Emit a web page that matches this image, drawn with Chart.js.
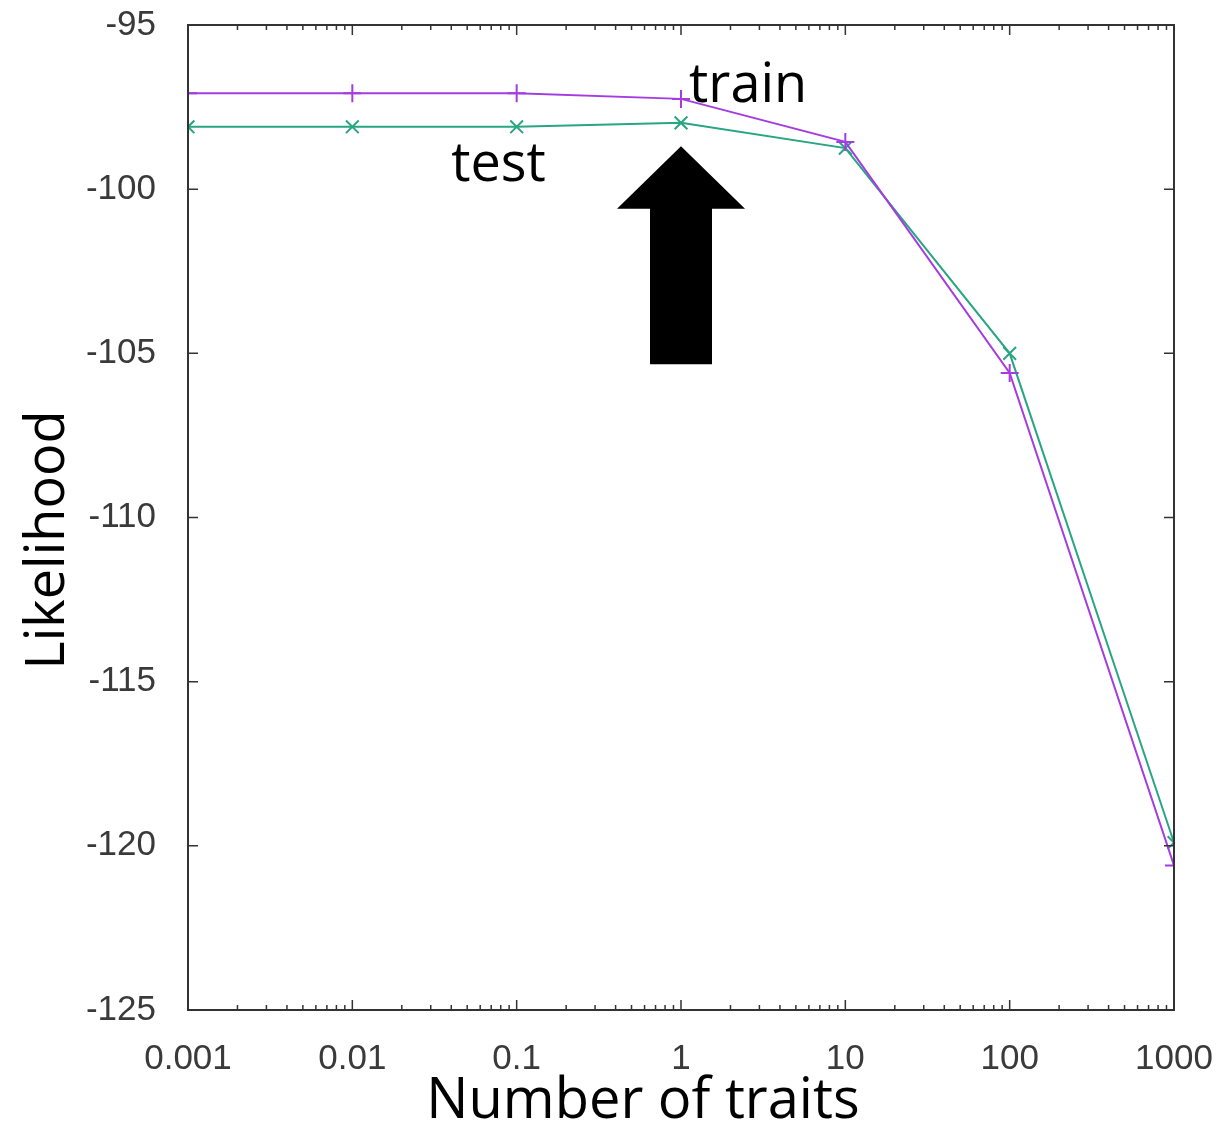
<!DOCTYPE html>
<html lang="en">
<head>
    <meta charset="UTF-8">
    <title>Likelihood vs number of traits</title>
    <style>
        html, body {
            margin: 0;
            padding: 0;
            background: #fff;
        }
        .wrap {
            width: 1217px;
            height: 1123px;
        }
    </style>
</head>
<body>
    <div class="wrap">
        <canvas id="chart" width="1217" height="1123"></canvas>
    </div>

    <script src="https://cdn.jsdelivr.net/npm/chart.js"></script>
    <script>
        // data
        const traits = [0.001, 0.01, 0.1, 1, 10, 100, 1000];
        const trainLik = [-97.08, -97.08, -97.08, -97.25, -98.56, -105.6, -120.6];
        const testLik = [-98.1, -98.1, -98.1, -97.98, -98.75, -105.0, -119.9];
        const xTicks = [0.001, 0.01, 0.1, 1, 10, 100, 1000];
        const yTicks = [-125, -120, -115, -110, -105, -100, -95];

        const tickFont = { family: '"Liberation Sans", Arial, sans-serif', size: 35 };
        const bigFont = '"Open Sans", "Noto Sans", sans-serif';

        // frame, inward ticks, arrow, in-plot labels and axis titles
        const decorations = {
            id: 'decorations',
            afterDatasetsDraw(chart) {
                const { ctx, chartArea: a, scales: { x, y } } = chart;
                ctx.save();
                ctx.strokeStyle = '#333';
                ctx.lineWidth = 2;
                ctx.strokeRect(a.left, a.top, a.right - a.left, a.bottom - a.top);

                ctx.lineWidth = 1.5;
                ctx.beginPath();
                for (let d = -3; d <= 2; d++) {
                    for (let m = 1; m <= 10; m++) {
                        const v = m * Math.pow(10, d);
                        const px = x.getPixelForValue(v);
                        const len = (m === 1 || m === 10) ? 10 : 5;
                        ctx.moveTo(px, a.bottom); ctx.lineTo(px, a.bottom - len);
                        ctx.moveTo(px, a.top); ctx.lineTo(px, a.top + len);
                    }
                }
                yTicks.forEach(v => {
                    const py = y.getPixelForValue(v);
                    ctx.moveTo(a.left, py); ctx.lineTo(a.left + 10, py);
                    ctx.moveTo(a.right, py); ctx.lineTo(a.right - 10, py);
                });
                ctx.stroke();

                // arrow pointing at the x = 1 point
                const ax = x.getPixelForValue(1);
                const tip = y.getPixelForValue(-98.69);
                const base = y.getPixelForValue(-100.6);
                const tail = y.getPixelForValue(-105.33);
                ctx.fillStyle = '#000';
                ctx.beginPath();
                ctx.moveTo(ax, tip);
                ctx.lineTo(ax + 64, base);
                ctx.lineTo(ax + 31, base);
                ctx.lineTo(ax + 31, tail);
                ctx.lineTo(ax - 31, tail);
                ctx.lineTo(ax - 31, base);
                ctx.lineTo(ax - 64, base);
                ctx.closePath();
                ctx.fill();

                ctx.font = '54px ' + bigFont;
                ctx.textBaseline = 'alphabetic';
                ctx.textAlign = 'left';
                ctx.fillText('train', x.getPixelForValue(1.12), y.getPixelForValue(-97.35));
                ctx.fillText('test', x.getPixelForValue(0.04), y.getPixelForValue(-99.75));

                ctx.font = '56px ' + bigFont;
                ctx.textAlign = 'center';
                ctx.textBaseline = 'middle';
                ctx.fillText('Number of traits', (a.left + a.right) / 2 - 38, 1102);

                ctx.font = '54px ' + bigFont;
                ctx.translate(49, 540);
                ctx.rotate(-Math.PI / 2);
                ctx.fillText('Likelihood', 0, 0);
                ctx.restore();
            }
        };

        new Chart(document.getElementById('chart'), {
            type: 'line',
            data: {
                datasets: [
                    {
                        label: 'train',
                        data: traits.map((t, i) => ({ x: t, y: trainLik[i] })),
                        borderColor: 'rgb(165, 60, 225)',
                        backgroundColor: 'rgb(165, 60, 225)',
                        borderWidth: 2,
                        pointStyle: 'cross',
                        pointRadius: 9,
                        pointBorderWidth: 2,
                        tension: 0
                    },
                    {
                        label: 'test',
                        data: traits.map((t, i) => ({ x: t, y: testLik[i] })),
                        borderColor: 'rgb(40, 165, 130)',
                        backgroundColor: 'rgb(40, 165, 130)',
                        borderWidth: 2,
                        pointStyle: 'crossRot',
                        pointRadius: 9,
                        pointBorderWidth: 2,
                        tension: 0
                    }
                ]
            },
            options: {
                responsive: false,
                animation: false,
                layout: { padding: { top: 25, right: 43, left: 0, bottom: 0 } },
                plugins: {
                    legend: { display: false },
                    tooltip: { enabled: false }
                },
                scales: {
                    x: {
                        type: 'logarithmic',
                        min: 0.001,
                        max: 1000,
                        afterBuildTicks: s => { s.ticks = xTicks.map(v => ({ value: v })); },
                        afterFit: s => { s.height = 113; s.paddingLeft = 0; s.paddingRight = 0; },
                        grid: { display: false },
                        border: { display: false },
                        ticks: {
                            autoSkip: false,
                            maxRotation: 0,
                            padding: 20,
                            color: '#3a3a3a',
                            font: tickFont,
                            callback: v => String(v)
                        }
                    },
                    y: {
                        min: -125,
                        max: -95,
                        afterBuildTicks: s => { s.ticks = yTicks.map(v => ({ value: v })); },
                        afterFit: s => { s.width = 188; s.paddingTop = 0; s.paddingBottom = 0; },
                        grid: { display: false },
                        border: { display: false },
                        ticks: {
                            padding: 24,
                            color: '#3a3a3a',
                            font: tickFont
                        }
                    }
                }
            },
            plugins: [decorations]
        });
    </script>
</body>
</html>
